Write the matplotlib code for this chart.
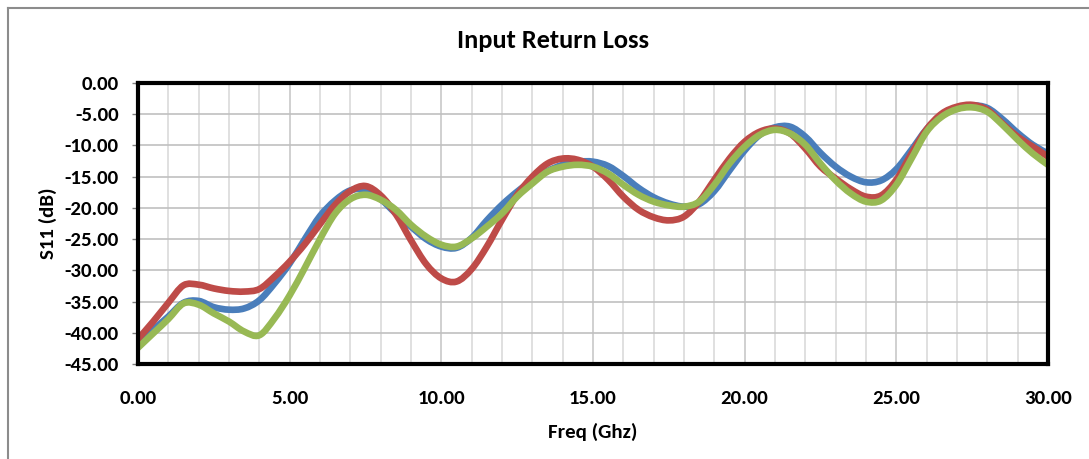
import matplotlib
matplotlib.use("Agg")
import numpy as np
import matplotlib.pyplot as plt
from matplotlib.ticker import MultipleLocator, FormatStrFormatter
from matplotlib.lines import Line2D
from matplotlib.path import Path
from matplotlib.patches import PathPatch

plt.rcParams['font.family'] = ['Carlito', 'Lato', 'DejaVu Sans']

freq = [0, 0.5, 1, 1.5, 2, 2.5, 3, 3.5, 4, 4.5, 5, 5.5, 6, 6.5, 7, 7.5, 8, 8.5, 9, 9.5,
        10, 10.5, 11, 11.5, 12, 12.5, 13, 13.5, 14, 14.5, 15, 15.5, 16, 16.5, 17, 17.5,
        18, 18.5, 19, 19.5, 20, 20.5, 21, 21.5, 22, 22.5, 23, 23.5, 24, 24.5, 25, 25.5,
        26, 26.5, 27, 27.5, 28, 28.5, 29, 29.5, 30]

s11_blue = [-41.5, -39.5, -37.4, -35.2, -34.9, -35.9, -36.3, -36.1, -34.8, -32.1,
            -28.9, -25.0, -21.3, -18.8, -17.2, -17.1, -18.6, -20.9, -23.0, -25.0,
            -26.2, -26.4, -24.8, -22.0, -19.5, -17.4, -15.6, -14.1, -13.1, -12.6,
            -12.6, -13.3, -14.9, -16.8, -18.3, -19.3, -19.8, -19.4, -17.3, -14.0,
            -10.8, -8.3, -7.1, -7.0, -8.6, -11.2, -13.4, -15.0, -15.9, -15.6,
            -13.8, -10.7, -7.4, -5.2, -4.1, -3.6, -4.0, -5.8, -8.0, -9.9, -11.3]

s11_red = [-41.0, -38.2, -35.2, -32.4, -32.3, -32.9, -33.3, -33.4, -33.0, -31.0,
           -28.6, -25.8, -22.6, -19.5, -17.3, -16.5, -18.0, -21.0, -25.2, -29.0,
           -31.3, -31.8, -29.8, -26.2, -21.9, -17.9, -15.0, -12.9, -12.1, -12.3,
           -13.4, -15.5, -18.2, -20.3, -21.5, -22.0, -21.4, -19.0, -15.5, -12.1,
           -9.4, -7.8, -7.3, -8.1, -10.5, -13.4, -15.3, -17.0, -18.2, -18.0,
           -15.5, -11.3, -7.4, -4.9, -3.8, -3.5, -4.3, -6.5, -8.6, -10.2, -11.8]

s11_green = [-42.4, -40.1, -37.8, -35.3, -35.5, -36.9, -38.2, -39.8, -40.4, -37.7,
             -34.0, -29.6, -25.0, -20.9, -18.6, -17.9, -18.7, -20.3, -22.7, -24.6,
             -25.9, -26.2, -24.9, -23.0, -20.9, -18.2, -16.1, -14.2, -13.4, -13.1,
             -13.4, -14.5, -16.3, -17.9, -19.0, -19.6, -19.8, -19.0, -16.3, -12.9,
             -10.2, -8.3, -7.5, -8.1, -9.9, -12.9, -15.6, -17.7, -19.0, -18.8,
             -16.3, -12.1, -7.8, -5.4, -4.2, -3.9, -4.6, -6.7, -9.1, -11.3, -13.1]

title = "Input Return Loss"
xlabel = "Freq (Ghz)"
ylabel = "S11 (dB)"


def smooth_path(x, y, t=0.5):
    """Smoothed line through the data points (like a spreadsheet 'smoothed line'),
    drawn as cubic Bezier segments (Catmull-Rom tangents)."""
    x = np.asarray(x, float)
    y = np.asarray(y, float)
    pts = np.column_stack([x, y])
    n = len(pts)
    verts = [pts[0]]
    codes = [Path.MOVETO]
    for i in range(n - 1):
        p0 = pts[i - 1] if i > 0 else pts[i]
        p1 = pts[i]
        p2 = pts[i + 1]
        p3 = pts[i + 2] if i + 2 < n else pts[i + 1]
        c1 = p1 + (p2 - p0) * t / 3.0
        c2 = p2 - (p3 - p1) * t / 3.0
        verts += [c1, c2, p2]
        codes += [Path.CURVE4] * 3
    return Path(verts, codes)


fig = plt.figure(figsize=(10.89, 4.59), dpi=100)
ax = fig.add_axes([138/1089, 1 - 364/459, (1048-138)/1089, (364-83)/459])

series = [(s11_blue, '#4a7ebb', 3), (s11_red, '#be4b48', 4), (s11_green, '#98b954', 5)]
for vals, col, z in series:
    patch = PathPatch(smooth_path(freq, vals), facecolor='none', edgecolor=col,
                      lw=4.8, capstyle='round', joinstyle='round', zorder=z)
    ax.add_patch(patch)

ax.set_xlim(0, 30)
ax.set_ylim(-45, 0)
ax.xaxis.set_major_locator(MultipleLocator(5))
ax.xaxis.set_minor_locator(MultipleLocator(1))
ax.yaxis.set_major_locator(MultipleLocator(5))
ax.xaxis.set_major_formatter(FormatStrFormatter('%.2f'))
ax.yaxis.set_major_formatter(FormatStrFormatter('%.2f'))

ax.grid(which='major', axis='y', color='#c0c0c0', lw=1.2)
ax.grid(which='major', axis='x', color='#c8c8c8', lw=1.2)
ax.grid(which='minor', axis='x', color='#dadada', lw=1.2)
ax.set_axisbelow(True)

for sp in ax.spines.values():
    sp.set_linewidth(3)
    sp.set_color('black')
    sp.set_zorder(6)

ax.tick_params(axis='x', which='both', length=0, pad=19, labelsize=15)
ax.tick_params(axis='y', which='major', length=4, width=1, color='#808080', pad=10, labelsize=15)
for lab in ax.get_xticklabels() + ax.get_yticklabels():
    lab.set_fontweight('bold')

ax.set_xlabel(xlabel, fontsize=15, fontweight='bold', labelpad=11)
ax.set_ylabel(ylabel, fontsize=15, fontweight='bold', labelpad=5)
fig.text(553/1089, 1 - 40/459, title, ha='center', va='center', fontsize=19, fontweight='bold')

fig.add_artist(Line2D([8/1089, 8/1089], [0, 1 - 8/459], color='#8c8c8c', lw=1.5))
fig.add_artist(Line2D([8/1089, 1], [1 - 8/459, 1 - 8/459], color='#8c8c8c', lw=1.5))

fig.savefig('out.png', dpi=100)
